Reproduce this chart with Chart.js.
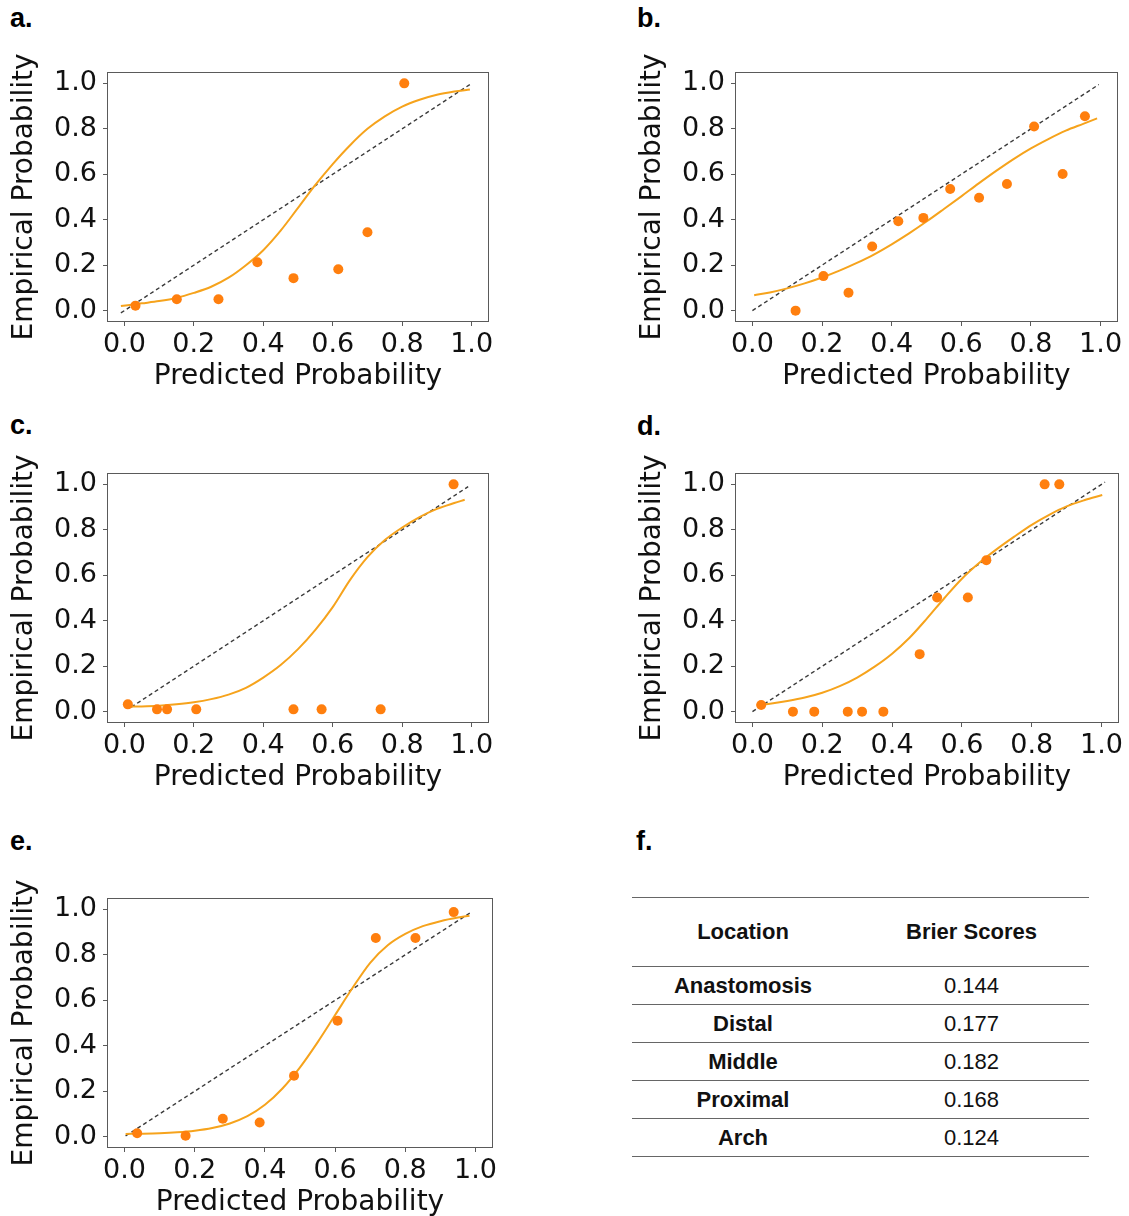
<!DOCTYPE html>
<html>
<head>
<meta charset="utf-8">
<script src="https://cdn.jsdelivr.net/npm/chart.js@4.4.1/dist/chart.umd.min.js"></script>
<style>
html, body { margin:0; padding:0; background:#fff; overflow:hidden; width:1129px; height:1216px; }
canvas { position:absolute; }
.plabel { position:absolute; font-family:'Liberation Sans', Arial, sans-serif; font-weight:bold; font-size:27px; line-height:27px; color:#000; }
#brier { position:absolute; left:632px; top:897px; width:457px; border-top:1.5px solid #666;
         font-family:'Liberation Sans', Arial, sans-serif; font-size:22px; color:#111; }
#brier .row { display:flex; align-items:center; box-sizing:border-box; border-bottom:1.5px solid #666; height:38px; }
#brier .row.head { height:69px; }
#brier .c1 { width:222px; text-align:center; font-weight:bold; }
#brier .c2 { flex:1; text-align:center; }
#brier .head .c2 { font-weight:bold; }
</style>
</head>
<body>
<div class="plabel" style="left:10px;top:5px;">a.</div>
<div class="plabel" style="left:637px;top:5px;">b.</div>
<div class="plabel" style="left:10px;top:412px;">c.</div>
<div class="plabel" style="left:637px;top:413px;">d.</div>
<div class="plabel" style="left:10px;top:828px;">e.</div>
<div class="plabel" style="left:636px;top:828px;">f.</div>
<canvas id="ca"></canvas>
<canvas id="cb"></canvas>
<canvas id="cc"></canvas>
<canvas id="cd"></canvas>
<canvas id="ce"></canvas>
<div id="brier"></div>
<script>
// ---------- data ----------
const TICKS = [0.0, 0.2, 0.4, 0.6, 0.8, 1.0];
const X_TITLE = 'Predicted Probability';
const Y_TITLE = 'Empirical Probability';

// panel a
const aPredicted = [0.032, 0.151, 0.271, 0.383, 0.487, 0.616, 0.700, 0.806];
const aEmpirical = [0.022, 0.050, 0.050, 0.213, 0.143, 0.182, 0.345, 1.000];
const aCurveX = [-0.01, 0.05, 0.10, 0.15, 0.20, 0.25, 0.30, 0.35, 0.40, 0.45, 0.50, 0.55, 0.60, 0.65, 0.70, 0.75, 0.80, 0.85, 0.90, 0.95, 0.995];
const aCurveY = [0.020, 0.032, 0.042, 0.056, 0.078, 0.105, 0.145, 0.200, 0.266, 0.352, 0.452, 0.553, 0.645, 0.728, 0.800, 0.855, 0.898, 0.928, 0.950, 0.964, 0.973];
const aDiag = [-0.01, 1.0];

// panel b
const bPredicted = [0.124, 0.204, 0.276, 0.344, 0.419, 0.491, 0.568, 0.651, 0.731, 0.809, 0.891, 0.955];
const bEmpirical = [0.000, 0.152, 0.079, 0.282, 0.393, 0.408, 0.535, 0.497, 0.557, 0.810, 0.601, 0.855];
const bCurveX = [0.005, 0.05, 0.10, 0.15, 0.20, 0.25, 0.30, 0.35, 0.40, 0.45, 0.50, 0.55, 0.60, 0.65, 0.70, 0.75, 0.80, 0.85, 0.90, 0.95, 0.99];
const bCurveY = [0.068, 0.080, 0.098, 0.120, 0.146, 0.176, 0.210, 0.248, 0.292, 0.340, 0.392, 0.447, 0.503, 0.560, 0.615, 0.667, 0.714, 0.755, 0.792, 0.822, 0.846];
const bDiag = [0.0, 0.995];

// panel c
const cPredicted = [0.010, 0.094, 0.123, 0.207, 0.487, 0.568, 0.738, 0.948];
const cEmpirical = [0.032, 0.010, 0.010, 0.010, 0.010, 0.010, 0.010, 1.000];
const cCurveX = [0.013, 0.05, 0.10, 0.15, 0.20, 0.25, 0.30, 0.35, 0.40, 0.45, 0.50, 0.55, 0.60, 0.65, 0.70, 0.75, 0.80, 0.85, 0.90, 0.95, 0.98];
const cCurveY = [0.022, 0.023, 0.026, 0.032, 0.041, 0.055, 0.075, 0.105, 0.150, 0.205, 0.275, 0.360, 0.460, 0.580, 0.680, 0.755, 0.810, 0.856, 0.892, 0.918, 0.932];
const cDiag = [0.02, 0.99];

// panel d
const dPredicted = [0.025, 0.116, 0.177, 0.273, 0.314, 0.375, 0.479, 0.529, 0.617, 0.670, 0.837, 0.879];
const dEmpirical = [0.029, 0.000, 0.000, 0.000, 0.000, 0.000, 0.253, 0.502, 0.502, 0.666, 1.000, 1.000];
const dCurveX = [0.012, 0.05, 0.10, 0.15, 0.20, 0.25, 0.30, 0.35, 0.40, 0.45, 0.50, 0.55, 0.60, 0.65, 0.70, 0.75, 0.80, 0.85, 0.90, 0.95, 1.002];
const dCurveY = [0.029, 0.035, 0.047, 0.062, 0.083, 0.112, 0.150, 0.198, 0.255, 0.325, 0.410, 0.500, 0.585, 0.655, 0.715, 0.770, 0.822, 0.866, 0.903, 0.930, 0.953];
const dDiag = [0.0, 1.01];

// panel e
const ePredicted = [0.036, 0.174, 0.280, 0.385, 0.483, 0.607, 0.716, 0.829, 0.938];
const eEmpirical = [0.015, 0.004, 0.079, 0.062, 0.268, 0.510, 0.874, 0.874, 0.988];
const eCurveX = [0.003, 0.05, 0.10, 0.15, 0.20, 0.25, 0.30, 0.35, 0.40, 0.45, 0.50, 0.55, 0.60, 0.65, 0.70, 0.75, 0.80, 0.85, 0.90, 0.95, 0.983];
const eCurveY = [0.012, 0.013, 0.015, 0.019, 0.026, 0.038, 0.058, 0.090, 0.140, 0.212, 0.305, 0.415, 0.535, 0.655, 0.765, 0.842, 0.892, 0.926, 0.948, 0.964, 0.972];
const eDiag = [0.003, 0.985];

// table f
const locations = ['Anastomosis', 'Distal', 'Middle', 'Proximal', 'Arch'];
const brierScores = [0.144, 0.177, 0.182, 0.168, 0.124];
const tableHeader = ['Location', 'Brier Scores'];

// ---------- layout (page pixels of each plot frame) ----------
const layouts = {
  ca: { box: [107, 72, 489, 322],  yTitleX: 25 },
  cb: { box: [735, 72, 1118, 322], yTitleX: 653 },
  cc: { box: [107, 473, 489, 723], yTitleX: 25 },
  cd: { box: [735, 473, 1119, 723], yTitleX: 653 },
  ce: { box: [107, 898, 493, 1148], yTitleX: 25 }
};

const pts = (xs, ys) => xs.map((x, i) => ({ x: x, y: ys[i] }));

const framePlugin = {
  id: 'frame',
  beforeDatasetsDraw(chart) {
    const a = chart.chartArea, ctx = chart.ctx;
    ctx.save();
    ctx.strokeStyle = '#5a5a5a';
    ctx.lineWidth = 1;
    ctx.strokeRect(Math.round(a.left) + 0.5, Math.round(a.top) + 0.5,
                   Math.round(a.right - a.left) - 1, Math.round(a.bottom - a.top) - 1);
    ctx.restore();
  }
};

function makePanel(id, px, py, cx, cy, diag) {
  const L = layouts[id];
  const [bl, bt, br, bb] = L.box;
  const cLeft = Math.round(L.yTitleX - 16.8);
  const cTop = bt - 32;
  const cRight = Math.min(1129, br + 30);
  const cBottom = bb + 72;
  const cv = document.getElementById(id);
  cv.width = cRight - cLeft;
  cv.height = cBottom - cTop;
  cv.style.left = cLeft + 'px';
  cv.style.top = cTop + 'px';
  cv.style.width = cv.width + 'px';
  cv.style.height = cv.height + 'px';
  const yW = bl - cLeft;
  const xH = cBottom - bb;
  const tickFont = { family: 'DejaVu Sans', size: 27 };
  const titleFont = { family: 'DejaVu Sans', size: 28 };
  const setTicks = s => { s.ticks = TICKS.map(v => ({ value: v })); };
  new Chart(cv, {
    type: 'scatter',
    data: {
      datasets: [
        { data: pts(diag, diag), showLine: true, borderColor: '#3a3a3a', borderWidth: 1.4,
          borderDash: [4, 3], pointRadius: 0, order: 3 },
        { data: pts(cx, cy), showLine: true, borderColor: '#f6a31c', borderWidth: 2,
          pointRadius: 0, cubicInterpolationMode: 'monotone', order: 2 },
        { data: pts(px, py), backgroundColor: '#ff7f0e', borderWidth: 0, pointRadius: 5,
          pointHoverRadius: 5, order: 1 }
      ]
    },
    options: {
      responsive: false,
      animation: false,
      devicePixelRatio: 1,
      events: [],
      layout: { padding: { left: 0, top: bt - cTop, right: cRight - br, bottom: 0 } },
      plugins: { legend: { display: false }, tooltip: { enabled: false } },
      scales: {
        x: {
          type: 'linear', min: -0.05, max: 1.05,
          afterBuildTicks: setTicks,
          afterFit: s => { s.height = xH; },
          ticks: { font: tickFont, color: '#111', padding: 3, autoSkip: false, maxRotation: 0,
                   callback: v => Number(v).toFixed(1) },
          grid: { drawOnChartArea: false, drawTicks: true, tickLength: 4, color: '#5a5a5a' },
          border: { display: false },
          title: { display: true, text: X_TITLE, font: titleFont, color: '#111', padding: 0 }
        },
        y: {
          type: 'linear', min: -0.05, max: 1.05,
          afterBuildTicks: setTicks,
          afterFit: s => { s.width = yW; },
          ticks: { font: tickFont, color: '#111', padding: 6, autoSkip: false,
                   callback: v => Number(v).toFixed(1) },
          grid: { drawOnChartArea: false, drawTicks: true, tickLength: 4, color: '#5a5a5a' },
          border: { display: false },
          title: { display: true, text: Y_TITLE, font: titleFont, color: '#111', padding: 0 }
        }
      }
    },
    plugins: [framePlugin]
  });
}

makePanel('ca', aPredicted, aEmpirical, aCurveX, aCurveY, aDiag);
makePanel('cb', bPredicted, bEmpirical, bCurveX, bCurveY, bDiag);
makePanel('cc', cPredicted, cEmpirical, cCurveX, cCurveY, cDiag);
makePanel('cd', dPredicted, dEmpirical, dCurveX, dCurveY, dDiag);
makePanel('ce', ePredicted, eEmpirical, eCurveX, eCurveY, eDiag);

// table f
const tbl = document.getElementById('brier');
function addRow(cls, a, b) {
  const r = document.createElement('div');
  r.className = 'row' + (cls ? ' ' + cls : '');
  const c1 = document.createElement('div'); c1.className = 'c1'; c1.textContent = a;
  const c2 = document.createElement('div'); c2.className = 'c2'; c2.textContent = b;
  r.appendChild(c1); r.appendChild(c2); tbl.appendChild(r);
}
addRow('head', tableHeader[0], tableHeader[1]);
locations.forEach((loc, i) => addRow('', loc, brierScores[i].toFixed(3)));
</script>
</body>
</html>
